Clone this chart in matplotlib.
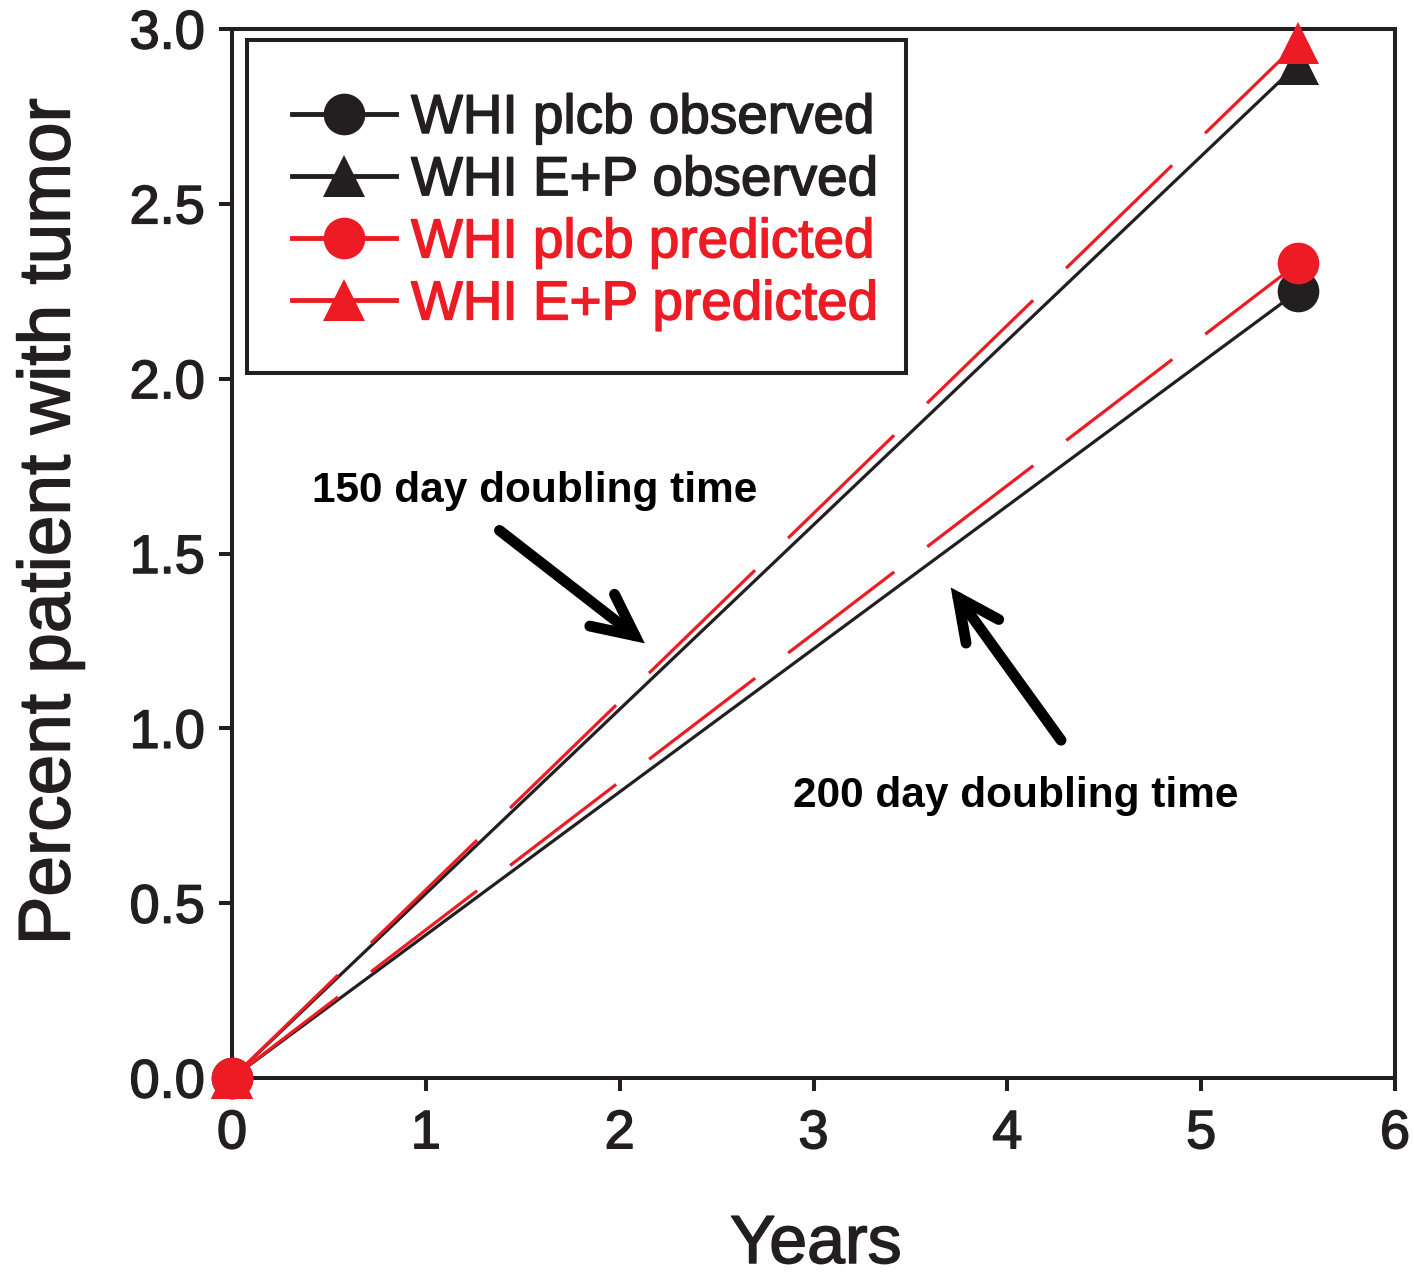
import matplotlib
matplotlib.use("Agg")
import matplotlib.pyplot as plt
import matplotlib.patheffects as pe
from matplotlib.lines import Line2D
from matplotlib.patches import Rectangle

# ---- data ----
years = [0.0, 5.5]
plcb_observed = [0.0, 2.25]
ep_observed = [0.0, 2.90]
plcb_predicted = [0.0, 2.33]
ep_predicted = [0.0, 2.96]

series_labels = ["WHI plcb observed", "WHI E+P observed",
                 "WHI plcb predicted", "WHI E+P predicted"]
x_ticks = [0, 1, 2, 3, 4, 5, 6]
y_ticks = [0.0, 0.5, 1.0, 1.5, 2.0, 2.5, 3.0]
y_tick_labels = ["0.0", "0.5", "1.0", "1.5", "2.0", "2.5", "3.0"]

annot_150 = "150 day doubling time"
annot_200 = "200 day doubling time"

# ---- style ----
BLK = "#231f20"
RED = "#ed1c24"
plt.rcParams["font.family"] = ["Liberation Sans", "DejaVu Sans"]
plt.rcParams["lines.scale_dashes"] = False


def heavy(color):
    return [pe.withStroke(linewidth=1.1, foreground=color)]


W, H = 1414, 1278
fig = plt.figure(figsize=(W / 100, H / 100), dpi=100)
ax = fig.add_axes([232 / W, 1 - 1078 / H, (1395 - 232) / W, (1078 - 29) / H])

ax.set_xlim(0, 6)
ax.set_ylim(0, 3)

MS = 30
LW = 2.3
ax.plot(years, ep_observed, color=BLK, lw=LW, marker="^", ms=MS, mew=0,
        clip_on=False, zorder=4)
ax.plot(years, plcb_observed, color=BLK, lw=LW, marker="o", ms=MS, mew=0,
        clip_on=False, zorder=4)
ax.plot(years, ep_predicted, color=RED, lw=LW, marker="^", ms=MS, mew=0,
        ls=(0, (106.4, 33.1)), clip_on=False, zorder=5)
ax.plot(years, plcb_predicted, color=RED, lw=LW, marker="o", ms=MS, mew=0,
        ls=(0, (96.1, 29.9)), clip_on=False, zorder=6)

# spines / ticks
for side in ["left", "right", "top", "bottom"]:
    ax.spines[side].set_linewidth(2.9)
    ax.spines[side].set_color(BLK)
ax.set_xticks(x_ticks)
ax.set_xticklabels([str(v) for v in x_ticks])
ax.set_yticks(y_ticks)
ax.set_yticklabels(y_tick_labels)
ax.tick_params(axis="both", direction="out", length=9.5, width=2.9,
               color=BLK, labelcolor=BLK, labelsize=39)
ax.tick_params(axis="y", pad=10)
ax.tick_params(axis="x", pad=13)
for lab in ax.get_xticklabels() + ax.get_yticklabels():
    lab.set_path_effects(heavy(BLK))

# legend
handles = [
    Line2D([], [], color=BLK, lw=3.5, marker="o", ms=MS, mew=0),
    Line2D([], [], color=BLK, lw=3.5, marker="^", ms=MS, mew=0),
    Line2D([], [], color=RED, lw=3.5, marker="o", ms=MS, mew=0),
    Line2D([], [], color=RED, lw=3.5, marker="^", ms=MS, mew=0),
]
leg = ax.legend(handles, series_labels, loc="upper left",
                bbox_to_anchor=(0.0516, 0.939), frameon=False, borderpad=0,
                borderaxespad=0, handlelength=1.9, handletextpad=0.27,
                labelspacing=0.185, numpoints=1, prop=dict(size=39.5))
for t, c in zip(leg.get_texts(), [BLK, BLK, RED, RED]):
    t.set_color(c)
    t.set_path_effects(heavy(c))
ax.add_patch(Rectangle((0.0129, 0.672), 0.5795 - 0.0129, 0.9895 - 0.672,
                       transform=ax.transAxes, fill=False, lw=2.9, ec=BLK,
                       zorder=7, clip_on=False))

# annotations
ax.text(1.561, 1.678, annot_150, ha="center", va="center", fontsize=30.5,
        fontweight="bold", color="black")
ax.text(4.044, 0.806, annot_200, ha="center", va="center", fontsize=30.5,
        fontweight="bold", color="black")
arrow_kw = dict(arrowstyle="->,head_length=3.0,head_width=1.45",
                lw=7.8, color="black", shrinkA=0, shrinkB=0,
                mutation_scale=10, joinstyle="miter")
ax.annotate("", xy=(2.13, 1.243), xytext=(1.38, 1.566), arrowprops=arrow_kw)
ax.annotate("", xy=(3.708, 1.403), xytext=(4.277, 0.966), arrowprops=arrow_kw)

# axis labels
fig.text(0.036, 0.5915, "Percent patient with tumor", rotation=90,
         ha="center", va="center", fontsize=52.5, color=BLK,
         path_effects=heavy(BLK))
fig.text(0.577, 1 - 1263 / H, "Years", ha="center", va="baseline",
         fontsize=49, color=BLK, path_effects=heavy(BLK))

fig.savefig("out.png", dpi=100)
